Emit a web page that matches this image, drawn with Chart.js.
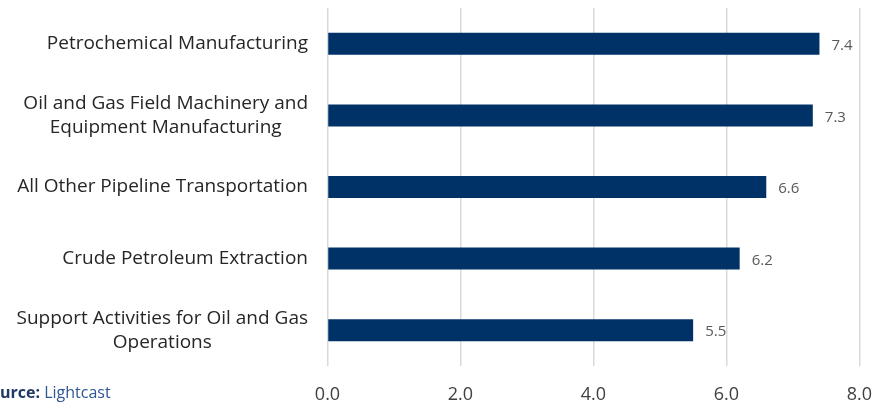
<!DOCTYPE html>
<html>
<head>
<meta charset="utf-8">
<script src="https://cdn.jsdelivr.net/npm/chart.js@4/dist/chart.umd.min.js"></script>
<style>
  html, body { margin: 0; padding: 0; background: #ffffff; }
  #wrap { position: relative; width: 890px; height: 409px; }
</style>
</head>
<body>
<div id="wrap"><canvas id="chart" width="890" height="409"></canvas></div>
<script>
// Industry categories (each entry split into its display lines)
const categories = [
  ['Petrochemical Manufacturing'],
  ['Oil and Gas Field Machinery and', 'Equipment Manufacturing'],
  ['All Other Pipeline Transportation'],
  ['Crude Petroleum Extraction'],
  ['Support Activities for Oil and Gas', 'Operations']
];
const values = [7.4, 7.3, 6.6, 6.2, 5.5];
const xTickValues = [0, 2, 4, 6, 8];
const sourceLabel = 'Source:';
const sourceName = 'Lightcast';

const FONT = '"Open Sans", "Noto Sans", sans-serif';

// Category labels: block right-aligned against the axis, lines centred inside the block
const categoryLabels = {
  id: 'categoryLabels',
  afterDraw(chart) {
    const ctx = chart.ctx;
    const y = chart.scales.y;
    ctx.save();
    ctx.font = '19px ' + FONT;
    ctx.fillStyle = '#262626';
    ctx.textBaseline = 'middle';
    ctx.textAlign = 'center';
    const lineH = 24;
    const right = 308;
    categories.forEach((lines, i) => {
      const cy = y.getPixelForValue(i);
      const w = Math.max(...lines.map(l => ctx.measureText(l).width));
      const cx = right - w / 2;
      const y0 = cy - (lines.length - 1) * lineH / 2;
      lines.forEach((l, k) => ctx.fillText(l, cx, y0 + k * lineH));
    });
    ctx.restore();
  }
};

// Value labels at the end of each bar
const valueLabels = {
  id: 'valueLabels',
  afterDatasetsDraw(chart) {
    const ctx = chart.ctx;
    const meta = chart.getDatasetMeta(0);
    ctx.save();
    ctx.font = '15px ' + FONT;
    ctx.fillStyle = '#595959';
    ctx.textBaseline = 'middle';
    ctx.textAlign = 'left';
    meta.data.forEach((bar, i) => {
      ctx.fillText(values[i].toFixed(1), bar.x + 12, bar.y + 2);
    });
    ctx.restore();
  }
};

// Source note in the lower-left corner
const sourceNote = {
  id: 'sourceNote',
  afterDraw(chart) {
    const ctx = chart.ctx;
    ctx.save();
    ctx.textBaseline = 'middle';
    ctx.textAlign = 'left';
    ctx.font = 'bold 16px ' + FONT;
    const cut = ctx.measureText('So').width;
    const x0 = -cut;
    const yy = 393;
    ctx.fillStyle = '#1f3864';
    ctx.fillText(sourceLabel, x0, yy);
    const w = ctx.measureText(sourceLabel + ' ').width;
    ctx.font = '16px ' + FONT;
    ctx.fillStyle = '#2f5597';
    ctx.fillText(sourceName, x0 + w, yy);
    ctx.restore();
  }
};

new Chart(document.getElementById('chart'), {
  type: 'bar',
  data: {
    labels: categories,
    datasets: [{
      data: values,
      backgroundColor: '#003268',
      borderWidth: 0,
      barPercentage: 0.307,
      categoryPercentage: 1.0
    }]
  },
  options: {
    indexAxis: 'y',
    responsive: false,
    animation: false,
    events: [],
    layout: { padding: { left: 0, right: 28, top: 8, bottom: 0 } },
    plugins: { legend: { display: false }, tooltip: { enabled: false } },
    scales: {
      x: {
        min: 0,
        max: 8,
        afterBuildTicks(scale) {
          scale.ticks = xTickValues.map(v => ({ value: v }));
        },
        afterFit(scale) { scale.height = 43; },
        ticks: {
          callback: v => Number(v).toFixed(1),
          font: { family: FONT, size: 18 },
          color: '#404040',
          padding: 18,
          maxRotation: 0
        },
        grid: { color: '#d9d9d9', lineWidth: 1.5, drawTicks: false },
        border: { display: false }
      },
      y: {
        ticks: { display: false },
        grid: { display: false },
        border: { display: false },
        afterFit(scale) { scale.width = 327.5; }
      }
    }
  },
  plugins: [categoryLabels, valueLabels, sourceNote]
});
</script>
</body>
</html>
